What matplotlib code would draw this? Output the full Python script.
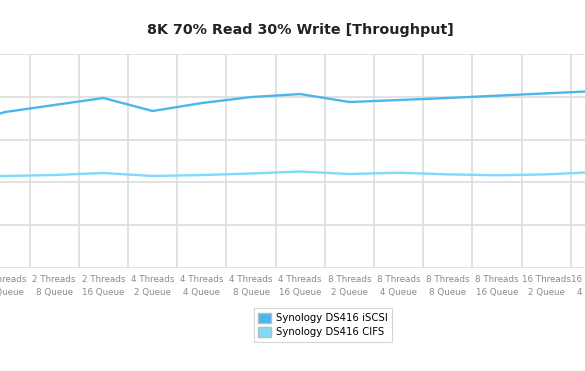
import matplotlib
matplotlib.use("Agg")
import matplotlib.pyplot as plt
from matplotlib.patches import Patch

# categories (the reference is a crop of a wider chart)
categories = ["2 Threads\n2 Queue", "2 Threads\n4 Queue", "2 Threads\n8 Queue", "2 Threads\n16 Queue",
              "4 Threads\n2 Queue", "4 Threads\n4 Queue", "4 Threads\n8 Queue", "4 Threads\n16 Queue",
              "8 Threads\n2 Queue", "8 Threads\n4 Queue", "8 Threads\n8 Queue", "8 Threads\n16 Queue",
              "16 Threads\n2 Queue", "16 Threads\n4 Queue"]
iscsi = [1650, 1822, 1904, 1986, 1834, 1927, 1997, 2032, 1939, 1962, 1986, 2013, 2040, 2067]
cifs = [1070, 1075, 1086, 1110, 1075, 1086, 1104, 1127, 1098, 1113, 1094, 1083, 1094, 1121]
yticks = [0, 500, 1000, 1500, 2000, 2500]

c_iscsi = "#4bb6ec"
c_cifs = "#80dafb"

fig = plt.figure(figsize=(5.85, 3.71), dpi=100)
ax = fig.add_axes([0, (371 - 268) / 371, 1, (268 - 54) / 371])

x = list(range(-1, len(categories) - 1))
ax.plot(x, iscsi, color=c_iscsi, lw=1.7, zorder=3)
ax.plot(x, cifs, color=c_cifs, lw=1.7, zorder=3)

ax.set_yticks(yticks)
ax.set_xticks([i + 0.5 for i in x])
ax.set_xlim(-5 / 49.2, 580 / 49.2)
ax.set_ylim(yticks[0], yticks[-1])
ax.tick_params(axis="both", length=0, labelleft=False, labelbottom=False)
ax.grid(True, axis="both", color="#dddddd", lw=1.2)
for s in ax.spines.values():
    s.set_visible(False)

# category labels (drawn as text so the half-visible ones at the edges show)
tr = ax.get_xaxis_transform()
for xi, lab in zip(x, categories):
    ax.text(xi, -0.035, lab, transform=tr, ha="center", va="top", fontsize=6.3,
            color="#8a8a8a", linespacing=1.5, clip_on=False)

fig.text(300 / 585, 1 - 30 / 371, "8K 70% Read 30% Write [Throughput]",
         ha="center", va="center", fontsize=10.3, fontweight="bold", color="#222222")

handles = [Patch(facecolor=c_iscsi, edgecolor="#bbbbbb", label="Synology DS416 iSCSI"),
           Patch(facecolor=c_cifs, edgecolor="#bbbbbb", label="Synology DS416 CIFS")]
leg = fig.legend(handles=handles, loc="center", bbox_to_anchor=(323 / 585, 1 - 325 / 371),
                 fontsize=7.3, frameon=True, fancybox=False, edgecolor="#cccccc",
                 handlelength=1.2, handleheight=1.2, handletextpad=0.5, borderpad=0.45,
                 labelspacing=0.35)
leg.get_frame().set_linewidth(0.8)

fig.savefig("out.png", dpi=100)
